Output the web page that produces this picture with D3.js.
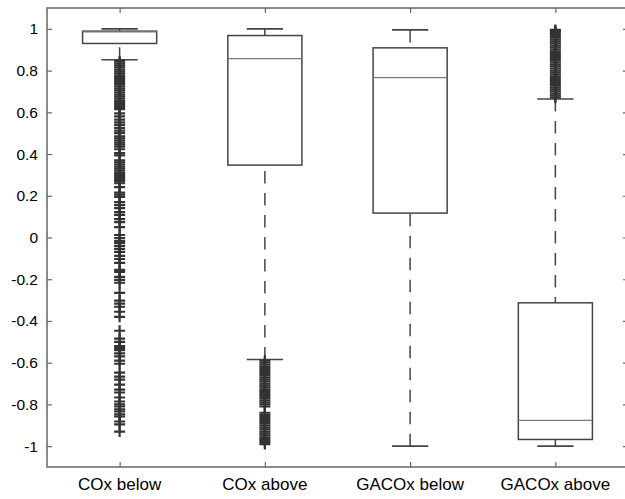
<!DOCTYPE html>
<html>
<head>
<meta charset="utf-8">
<script src="https://cdn.jsdelivr.net/npm/d3@7"></script>
<style>
  html, body { margin: 0; padding: 0; background: #fff; }
  svg { display: block; font-family: "Liberation Sans", Arial, sans-serif; }
</style>
</head>
<body>
<svg id="chart" width="625" height="499"></svg>
<script>
// ---- data ----
const categories = ["COx below", "COx above", "GACOx below", "GACOx above"];
const q1Values = [0.93, 0.347, 0.117, -0.968];
const medianValues = [0.986, 0.857, 0.766, -0.877];
const q3Values = [0.989, 0.968, 0.909, -0.313];
const whiskerLow = [0.852, -0.585, -1.0, -1.0];
const whiskerHigh = [1.0, 1.0, 0.995, 0.664];
const yTickValues = [1, 0.8, 0.6, 0.4, 0.2, 0, -0.2, -0.4, -0.6, -0.8, -1];

const outliersCOxBelow = [
  0.845, 0.835, 0.825, 0.815, 0.805, 0.795, 0.785, 0.775, 0.765, 0.755, 0.745, 0.735,
  0.725, 0.715, 0.705, 0.695, 0.685, 0.675, 0.665, 0.655, 0.645, 0.635, 0.625, 0.615,
  0.595, 0.581, 0.565, 0.552, 0.54, 0.525, 0.512, 0.50,
  0.485, 0.475, 0.465, 0.455, 0.445, 0.435, 0.423, 0.404, 0.394,
  0.37, 0.36, 0.35, 0.34, 0.33, 0.32, 0.31, 0.30, 0.29, 0.28, 0.27, 0.26, 0.241,
  0.215, 0.205, 0.195, 0.17, 0.155, 0.141, 0.122, 0.108, 0.088, 0.074, 0.05,
  0.012, -0.003, -0.017, -0.027, -0.041, -0.055, -0.069, -0.088, -0.103, -0.122,
  -0.155, -0.165, -0.189, -0.203, -0.217, -0.265, -0.303, -0.317, -0.332, -0.356, -0.38,
  -0.447, -0.485, -0.50, -0.52, -0.53, -0.54, -0.555, -0.57, -0.59, -0.605,
  -0.648, -0.667, -0.681, -0.705, -0.729, -0.743, -0.767, -0.786,
  -0.80, -0.81, -0.824, -0.834, -0.848, -0.858, -0.882, -0.896, -0.93
];
const outliersCOxAbove = [
  -0.59, -0.60, -0.61, -0.62, -0.63, -0.64, -0.65, -0.66, -0.67, -0.68, -0.69, -0.70,
  -0.71, -0.72, -0.73, -0.74, -0.75, -0.76, -0.77, -0.78, -0.79, -0.80, -0.81,
  -0.84, -0.85, -0.86, -0.87, -0.88, -0.89, -0.90, -0.91, -0.92, -0.93, -0.94,
  -0.95, -0.96, -0.97, -0.98, -0.99
];
const outliersGACOxBelow = [];
const outliersGACOxAbove = [
  0.67, 0.68, 0.69, 0.70, 0.71, 0.72, 0.73, 0.74, 0.75, 0.76, 0.77, 0.78, 0.79,
  0.80, 0.81, 0.82, 0.83, 0.84, 0.85, 0.86, 0.87, 0.88, 0.89, 0.90, 0.91, 0.92,
  0.93, 0.94, 0.95, 0.96, 0.97, 0.98, 0.99, 0.995
];
const outlierLists = [outliersCOxBelow, outliersCOxAbove, outliersGACOxBelow, outliersGACOxAbove];

const boxes = categories.map((c, i) => ({
  cat: c, q1: q1Values[i], med: medianValues[i], q3: q3Values[i],
  lo: whiskerLow[i], hi: whiskerHigh[i], out: outlierLists[i]
}));

// ---- layout ----
const svg = d3.select("#chart");
const plotLeft = 47, plotRight = 628, plotTop = 8, plotBottom = 467;

const x = d3.scalePoint().domain(categories).range([plotLeft, plotRight]).padding(0.5);
const y = d3.scaleLinear().domain([-1.1, 1.1]).range([plotBottom, plotTop]);
const step = x.step();
const boxHalf = step * 0.255;
const capHalf = step * 0.125;

const frameColor = "#666";
const lineColor = "#444";

// axes
const yAxis = d3.axisLeft(y).tickValues(yTickValues).tickSize(-5).tickPadding(9)
  .tickFormat(d => String(d));
const gy = svg.append("g").attr("transform", `translate(${plotLeft},0)`).call(yAxis);
gy.select(".domain").remove();
gy.selectAll(".tick line").attr("stroke", frameColor).attr("stroke-width", 1.2);
gy.selectAll(".tick text").attr("fill", "#000").style("font-size", "15.5px")
  .style("font-family", "'Liberation Sans', Arial, sans-serif");

const yAxisR = d3.axisRight(y).tickValues(yTickValues).tickSize(-5).tickFormat("");
const gyr = svg.append("g").attr("transform", `translate(${plotRight},0)`).call(yAxisR);
gyr.select(".domain").remove();
gyr.selectAll(".tick line").attr("stroke", frameColor).attr("stroke-width", 1.2);

const xAxis = d3.axisBottom(x).tickSize(-5).tickFormat("");
const gx = svg.append("g").attr("transform", `translate(0,${plotBottom})`).call(xAxis);
gx.select(".domain").remove();
gx.selectAll(".tick line").attr("stroke", frameColor).attr("stroke-width", 1.2);

const xAxisT = d3.axisTop(x).tickSize(-5).tickFormat("");
const gxt = svg.append("g").attr("transform", `translate(0,${plotTop})`).call(xAxisT);
gxt.select(".domain").remove();
gxt.selectAll(".tick line").attr("stroke", frameColor).attr("stroke-width", 1.2);

// x labels
svg.append("g").selectAll("text").data(categories).join("text")
  .attr("x", d => x(d)).attr("y", 490)
  .attr("text-anchor", "middle")
  .attr("fill", "#000")
  .style("font-size", "17px")
  .text(d => d);

// frame
svg.append("rect").attr("x", plotLeft).attr("y", plotTop)
  .attr("width", plotRight - plotLeft).attr("height", plotBottom - plotTop)
  .attr("fill", "none").attr("stroke", frameColor).attr("stroke-width", 1.5);

// boxes
const g = svg.append("g");
boxes.forEach(b => {
  const cx = x(b.cat);
  // whiskers (dashed, drawn from cap toward box)
  g.append("line").attr("x1", cx).attr("x2", cx)
    .attr("y1", y(b.hi)).attr("y2", y(b.q3))
    .attr("stroke", lineColor).attr("stroke-width", 1.5)
    .attr("stroke-dasharray", "12.5,9.5");
  g.append("line").attr("x1", cx).attr("x2", cx)
    .attr("y1", y(b.lo)).attr("y2", y(b.q1))
    .attr("stroke", lineColor).attr("stroke-width", 1.5)
    .attr("stroke-dasharray", "12.5,9.5");
  // caps
  [b.hi, b.lo].forEach(v => {
    g.append("line").attr("x1", cx - capHalf).attr("x2", cx + capHalf)
      .attr("y1", y(v)).attr("y2", y(v))
      .attr("stroke", lineColor).attr("stroke-width", 1.6);
  });
  // box
  g.append("rect").attr("x", cx - boxHalf).attr("width", 2 * boxHalf)
    .attr("y", y(b.q3)).attr("height", y(b.q1) - y(b.q3))
    .attr("fill", "none").attr("stroke", lineColor).attr("stroke-width", 1.5);
  // median
  g.append("line").attr("x1", cx - boxHalf).attr("x2", cx + boxHalf)
    .attr("y1", y(b.med)).attr("y2", y(b.med))
    .attr("stroke", "#7a7a7a").attr("stroke-width", 1.3);
  // outliers
  g.append("g").selectAll("path").data(b.out).join("path")
    .attr("transform", d => `translate(${cx},${y(d)})`)
    .attr("d", "M-5.5,0H5.5M0,-5.5V5.5")
    .attr("fill", "none").attr("stroke", "#333").attr("stroke-width", 2.2);
});
</script>
</body>
</html>
